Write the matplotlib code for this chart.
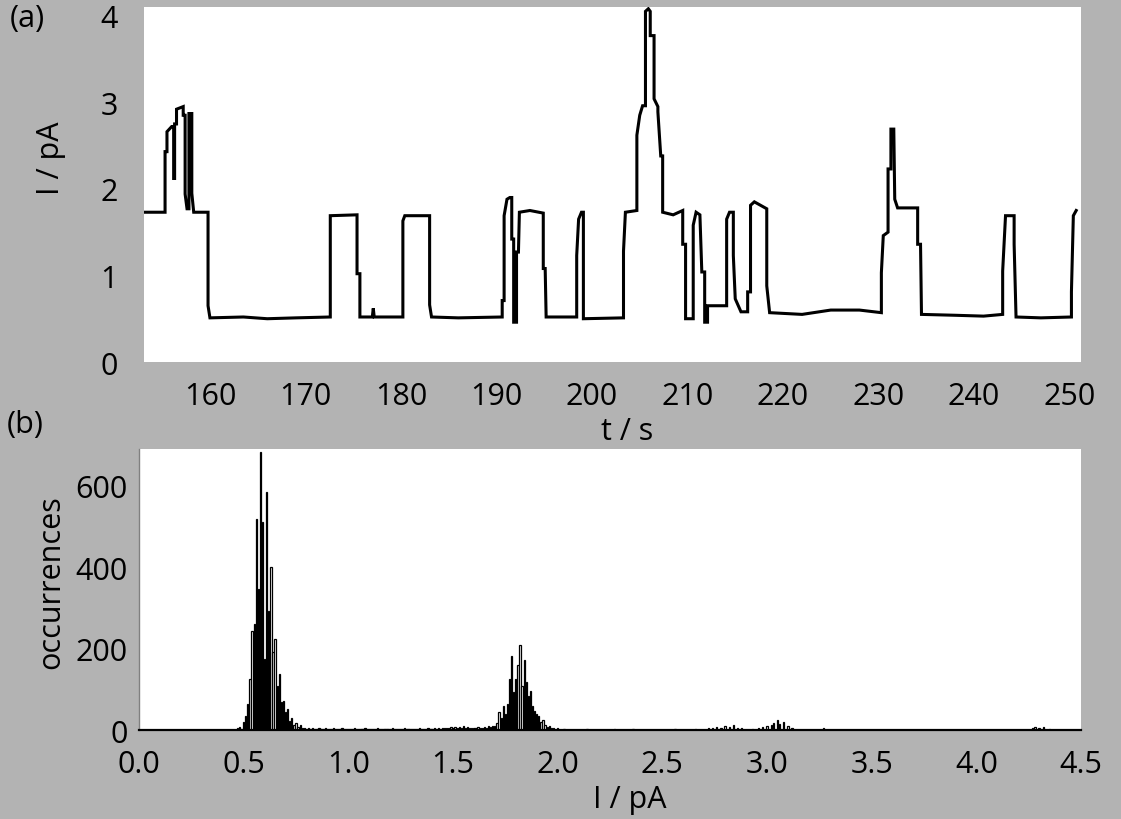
import numpy as np
import matplotlib
matplotlib.use("Agg")
import matplotlib.pyplot as plt

# --- data: current trace, corner points of the step-like record (t in s, I in pA) ---
trace_t = [153.1, 155.3, 155.3, 155.5, 155.5, 156.0, 156.2, 156.2, 156.3, 156.3, 156.5, 156.5,
           157.2, 157.2, 157.4, 157.4, 157.6, 157.8, 157.8, 158.1, 158.1, 158.3, 159.8, 159.8,
           160.0, 163.5, 166.0, 169.0, 172.6, 172.6, 175.4, 175.4, 175.7, 175.7, 177.0, 177.1,
           177.2, 180.2, 180.2, 180.4, 183.0, 183.0, 183.2, 186.0, 190.6, 190.6, 190.8, 190.8,
           191.1, 191.4, 191.6, 191.6, 191.8, 191.8, 192.1, 192.1, 192.3, 192.4, 193.5, 194.9,
           194.9, 195.1, 195.2, 198.4, 198.4, 198.6, 198.9, 199.1, 199.1, 203.3, 203.3, 203.5,
           204.7, 204.7, 205.0, 205.3, 205.6, 205.6, 205.9, 206.1, 206.1, 206.5, 206.5, 206.9,
           206.9, 207.2, 207.4, 207.4, 208.5, 209.5, 209.5, 209.8, 209.8, 210.6, 210.6, 210.9,
           211.3, 211.5, 211.8, 211.8, 212.1, 212.1, 214.1, 214.1, 214.4, 214.8, 214.8, 215.0,
           215.6, 216.3, 216.3, 216.6, 216.6, 217.0, 218.3, 218.3, 218.6, 222.0, 225.0, 228.0,
           230.3, 230.3, 230.5, 231.0, 231.0, 231.3, 231.3, 231.6, 231.7, 232.0, 234.1, 234.1,
           234.4, 234.5, 238.0, 241.0, 243.0, 243.0, 243.3, 244.2, 244.2, 244.4, 247.0, 250.2,
           250.2, 250.4, 250.7]
trace_i = [1.73, 1.73, 2.43, 2.43, 2.66, 2.72, 2.72, 2.12, 2.12, 2.75, 2.75, 2.92,
           2.95, 2.85, 2.85, 1.94, 1.77, 1.77, 2.87, 2.87, 1.95, 1.73, 1.73, 0.65,
           0.51, 0.52, 0.50, 0.51, 0.52, 1.69, 1.70, 1.02, 1.02, 0.52, 0.52, 0.62,
           0.52, 0.52, 1.63, 1.69, 1.69, 0.66, 0.52, 0.51, 0.52, 0.71, 0.71, 1.69,
           1.88, 1.90, 1.90, 1.42, 1.42, 0.46, 0.46, 1.27, 1.27, 1.73, 1.75, 1.72,
           1.08, 1.08, 0.52, 0.52, 1.23, 1.65, 1.73, 1.73, 0.50, 0.51, 1.28, 1.73,
           1.75, 2.62, 2.85, 2.96, 2.96, 4.05, 4.08, 4.05, 3.77, 3.77, 3.04, 2.95,
           2.89, 2.38, 2.38, 1.73, 1.70, 1.75, 1.36, 1.36, 0.50, 0.50, 1.58, 1.73,
           1.70, 1.04, 1.04, 0.46, 0.46, 0.65, 0.65, 1.65, 1.73, 1.73, 1.23, 0.73,
           0.58, 0.58, 0.81, 0.81, 1.81, 1.85, 1.77, 0.88, 0.57, 0.55, 0.60, 0.60,
           0.57, 1.03, 1.46, 1.50, 2.23, 2.23, 2.69, 2.69, 1.88, 1.78, 1.78, 1.36,
           1.36, 0.55, 0.54, 0.53, 0.55, 1.05, 1.69, 1.69, 1.36, 0.52, 0.51, 0.52,
           0.81, 1.69, 1.75]

# --- data: histogram of the current (bins of 0.01 pA) ---
bin_width = 0.01
peak1_start = 0.47
peak1_counts = [5, 8, 3, 20, 34, 64, 125, 243, 260, 518, 346, 682, 510, 174, 584, 292,
                400, 191, 223, 108, 137, 69, 71, 44, 52, 22, 30, 12, 18, 8, 12, 6]
noise_start = 0.79
noise_counts = [4, 3, 5, 2, 4, 3, 3, 5, 2, 3, 4, 2, 3, 3, 4, 2, 3, 2, 4, 3,
                2, 3, 3, 2, 4, 2, 3, 3, 2, 4, 3, 2, 3, 2, 3, 4, 2, 3, 2, 3,
                3, 2, 4, 2, 3, 3, 2, 3, 4, 2, 3, 2, 3, 3, 2, 4, 3, 2, 3, 4,
                3, 2, 4, 3, 5, 3, 4, 6, 4, 5, 7, 5, 8, 6, 7, 5, 9, 6, 7, 5,
                6, 4, 5, 7, 5, 6, 8, 6, 9, 7, 10]
peak2_start = 1.70
peak2_counts = [10, 18, 44, 30, 59, 40, 64, 125, 182, 93, 125, 160, 208, 108, 172, 118,
                83, 96, 60, 47, 39, 34, 20, 25, 12, 8, 10, 5, 6]
minor_i = [2.00, 2.03, 2.14, 2.27, 2.36, 2.56, 2.66, 2.72, 2.74, 2.76, 2.78, 2.80, 2.82,
           2.84, 2.86, 2.88, 2.93, 2.96, 2.98, 3.00, 3.02, 3.03, 3.05, 3.06, 3.08, 3.10,
           3.12, 3.27, 4.27, 4.28, 4.30, 4.32, 4.35]
minor_counts = [4, 3, 3, 3, 3, 3, 3, 4, 6, 8, 5, 10, 7, 12, 6, 4, 3, 6, 8, 10, 12, 18,
                25, 14, 20, 9, 6, 4, 6, 8, 5, 7, 3]

time_ticks = [160, 170, 180, 190, 200, 210, 220, 230, 240, 250]
current_ticks = [0, 1, 2, 3, 4]
hist_xticks = [0.0, 0.5, 1.0, 1.5, 2.0, 2.5, 3.0, 3.5, 4.0, 4.5]
hist_yticks = [0, 200, 400, 600]

# --- style ---
BG = "#b3b3b3"
plt.rcParams["font.family"] = ["Open Sans", "DejaVu Sans"]
FS = 22

fig = plt.figure(figsize=(11.21, 8.2), dpi=100, facecolor=BG)

# (a) current trace
ax1 = fig.add_axes([0.1285, 0.5573, 0.8358, 0.4329])
ax1.plot(trace_t, trace_i, color="black", linewidth=2.2, solid_joinstyle="miter")
ax1.set_xlim(153.1, 251.2)
ax1.set_ylim(0, 4.1)
ax1.set_xticks(time_ticks)
ax1.set_yticks(current_ticks)
ax1.tick_params(axis="both", length=0, labelsize=FS)
ax1.tick_params(axis="x", pad=14)
ax1.tick_params(axis="y", pad=19)
for s in ax1.spines.values():
    s.set_visible(False)

# (b) histogram
hist_i, hist_n = [], []
for start, counts in [(peak1_start, peak1_counts), (noise_start, noise_counts),
                      (peak2_start, peak2_counts)]:
    for k, c in enumerate(counts):
        hist_i.append(round(start + k * bin_width, 2))
        hist_n.append(c)
hist_i += minor_i
hist_n += minor_counts

ax2 = fig.add_axes([0.124, 0.1085, 0.8403, 0.3427])
ax2.bar(hist_i, hist_n, width=bin_width * 0.6, facecolor="white", edgecolor="black",
        linewidth=0.9)
ax2.set_xlim(0, 4.5)
ax2.set_ylim(0, 690)
ax2.set_xticks(hist_xticks)
ax2.set_xticklabels([f"{v:.1f}" for v in hist_xticks])
ax2.set_yticks(hist_yticks)
ax2.tick_params(axis="both", length=0, labelsize=FS)
ax2.tick_params(axis="x", pad=14)
ax2.tick_params(axis="y", pad=8)
ax2.spines["top"].set_visible(False)
ax2.spines["right"].set_visible(False)
ax2.spines["left"].set_color("#808080")
ax2.spines["left"].set_linewidth(1.0)
ax2.spines["bottom"].set_color("black")
ax2.spines["bottom"].set_linewidth(1.6)

# labels
fig.text(27 / 1121, 1 - 19 / 820, "(a)", fontsize=FS, ha="center", va="center")
fig.text(25 / 1121, 1 - 425 / 820, "(b)", fontsize=FS, ha="center", va="center")
fig.text(51 / 1121, 1 - 158 / 820, "I / pA", fontsize=FS, rotation=90, ha="center", va="center")
fig.text(51 / 1121, 1 - 582 / 820, "occurrences", fontsize=FS, rotation=90, ha="center", va="center")
fig.text(627 / 1121, 1 - 432 / 820, "t / s", fontsize=FS, ha="center", va="center")
fig.text(630 / 1121, 1 - 800 / 820, "I / pA", fontsize=FS, ha="center", va="center")

fig.savefig("out.png", dpi=100, facecolor=BG)
